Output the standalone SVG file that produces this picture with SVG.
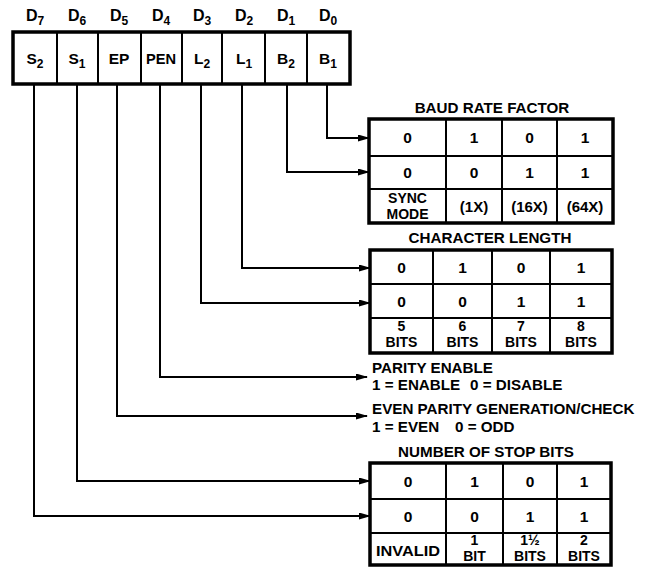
<svg xmlns="http://www.w3.org/2000/svg" width="651" height="568" viewBox="0 0 651 568">
<defs>
<marker id="ah" viewBox="0 0 12 7" refX="11" refY="3.5" markerWidth="12" markerHeight="7" markerUnits="userSpaceOnUse" orient="auto">
<path d="M0,0 L12,3.5 L0,7 Z" fill="#000"/>
</marker>
<style>
text{font-family:"Liberation Sans",Arial,sans-serif;font-weight:bold;fill:#000;text-anchor:middle}
.hd{font-size:16px}
.sub{font-size:12px}
.csub{font-size:12px}
.cl{font-size:15.5px}
.tt{font-size:15.2px}
.lt{font-size:15.2px;text-anchor:start}
.sm{font-size:15px}
.tw{font-size:14px}
.frame{fill:#fff;stroke:#000;stroke-width:3.5}
.div{stroke:#000;stroke-width:2;fill:none}
.conn{stroke:#000;stroke-width:2;fill:none;marker-end:url(#ah)}
</style>
</defs>
<rect width="651" height="568" fill="#fff"/>

<g id="register">
<text class="hd" x="35" y="21">D<tspan class="sub" dy="4">7</tspan></text>
<text class="hd" x="77" y="21">D<tspan class="sub" dy="4">6</tspan></text>
<text class="hd" x="119" y="21">D<tspan class="sub" dy="4">5</tspan></text>
<text class="hd" x="161" y="21">D<tspan class="sub" dy="4">4</tspan></text>
<text class="hd" x="202" y="21">D<tspan class="sub" dy="4">3</tspan></text>
<text class="hd" x="244" y="21">D<tspan class="sub" dy="4">2</tspan></text>
<text class="hd" x="286" y="21">D<tspan class="sub" dy="4">1</tspan></text>
<text class="hd" x="328" y="21">D<tspan class="sub" dy="4">0</tspan></text>
<rect class="frame" x="13" y="32" width="337" height="52"/>
<path class="div" d="M57,32V84 M98,32V84 M141,32V84 M182,32V84 M222,32V84 M265,32V84 M307,32V84"/>
<text class="cl" x="35" y="64">S<tspan class="csub" dy="4">2</tspan></text>
<text class="cl" x="77" y="64">S<tspan class="csub" dy="4">1</tspan></text>
<text class="cl" x="119" y="64">EP</text>
<text class="cl" x="161" y="64" textLength="30" lengthAdjust="spacingAndGlyphs">PEN</text>
<text class="cl" x="202" y="64">L<tspan class="csub" dy="4">2</tspan></text>
<text class="cl" x="244" y="64">L<tspan class="csub" dy="4">1</tspan></text>
<text class="cl" x="286" y="64">B<tspan class="csub" dy="4">2</tspan></text>
<text class="cl" x="328" y="64">B<tspan class="csub" dy="4">1</tspan></text>
</g>

<g id="connectors">
<path class="conn" d="M327,84V138H369"/>
<path class="conn" d="M287,84V172H369"/>
<path class="conn" d="M242,84V268H370"/>
<path class="conn" d="M201,84V303H370"/>
<path class="conn" d="M160,84V377H367"/>
<path class="conn" d="M117,84V416H367"/>
<path class="conn" d="M77,84V481H370"/>
<path class="conn" d="M34,84V516H370"/>
</g>

<g id="baud-rate">
<text class="tt" x="492" y="113">BAUD RATE FACTOR</text>
<rect class="frame" x="369" y="119" width="244" height="104"/>
<path class="div" d="M369,156H613 M369,189H613 M446,119V223 M502,119V223 M557,119V223"/>
<text class="cl" x="407.5" y="143">0</text>
<text class="cl" x="474" y="143">1</text>
<text class="cl" x="529.5" y="143">0</text>
<text class="cl" x="585" y="143">1</text>
<text class="cl" x="407.5" y="178">0</text>
<text class="cl" x="474" y="178">0</text>
<text class="cl" x="529.5" y="178">1</text>
<text class="cl" x="585" y="178">1</text>
<text class="tw" x="407.5" y="203">SYNC</text>
<text class="tw" x="407.5" y="219">MODE</text>
<text class="sm" x="474" y="212">(1X)</text>
<text class="sm" x="529.5" y="212">(16X)</text>
<text class="sm" x="585" y="212">(64X)</text>
</g>

<g id="char-length">
<text class="tt" x="490" y="243">CHARACTER LENGTH</text>
<rect class="frame" x="370" y="250" width="242" height="103"/>
<path class="div" d="M370,284H612 M370,318H612 M433,250V353 M492,250V353 M550,250V353"/>
<text class="cl" x="401.5" y="273">0</text>
<text class="cl" x="462.5" y="273">1</text>
<text class="cl" x="521" y="273">0</text>
<text class="cl" x="581" y="273">1</text>
<text class="cl" x="401.5" y="307">0</text>
<text class="cl" x="462.5" y="307">0</text>
<text class="cl" x="521" y="307">1</text>
<text class="cl" x="581" y="307">1</text>
<text class="tw" x="401.5" y="331">5</text>
<text class="tw" x="401.5" y="347">BITS</text>
<text class="tw" x="462.5" y="331">6</text>
<text class="tw" x="462.5" y="347">BITS</text>
<text class="tw" x="521" y="331">7</text>
<text class="tw" x="521" y="347">BITS</text>
<text class="tw" x="581" y="331">8</text>
<text class="tw" x="581" y="347">BITS</text>
</g>

<g id="parity-enable">
<text class="lt" x="372" y="373">PARITY ENABLE</text>
<text class="lt" x="372" y="390">1 = ENABLE</text>
<text class="lt" x="470" y="390">0 = DISABLE</text>
</g>

<g id="even-parity">
<text class="lt" x="372" y="414">EVEN PARITY GENERATION/CHECK</text>
<text class="lt" x="372" y="432">1 = EVEN</text>
<text class="lt" x="455" y="432">0 = ODD</text>
</g>

<g id="stop-bits">
<text class="tt" x="486" y="457">NUMBER OF STOP BITS</text>
<rect class="frame" x="370" y="463" width="241" height="102"/>
<path class="div" d="M370,499H611 M370,533H611 M446,463V565 M503,463V565 M557,463V565"/>
<text class="cl" x="408" y="487">0</text>
<text class="cl" x="474.5" y="487">1</text>
<text class="cl" x="530" y="487">0</text>
<text class="cl" x="584" y="487">1</text>
<text class="cl" x="408" y="522">0</text>
<text class="cl" x="474.5" y="522">0</text>
<text class="cl" x="530" y="522">1</text>
<text class="cl" x="584" y="522">1</text>
<text class="cl" x="408" y="556" textLength="64" lengthAdjust="spacingAndGlyphs">INVALID</text>
<text class="tw" x="474.5" y="545">1</text>
<text class="tw" x="474.5" y="561">BIT</text>
<text class="tw" x="530" y="545">1½</text>
<text class="tw" x="530" y="561">BITS</text>
<text class="tw" x="584" y="545">2</text>
<text class="tw" x="584" y="561">BITS</text>
</g>
</svg>
